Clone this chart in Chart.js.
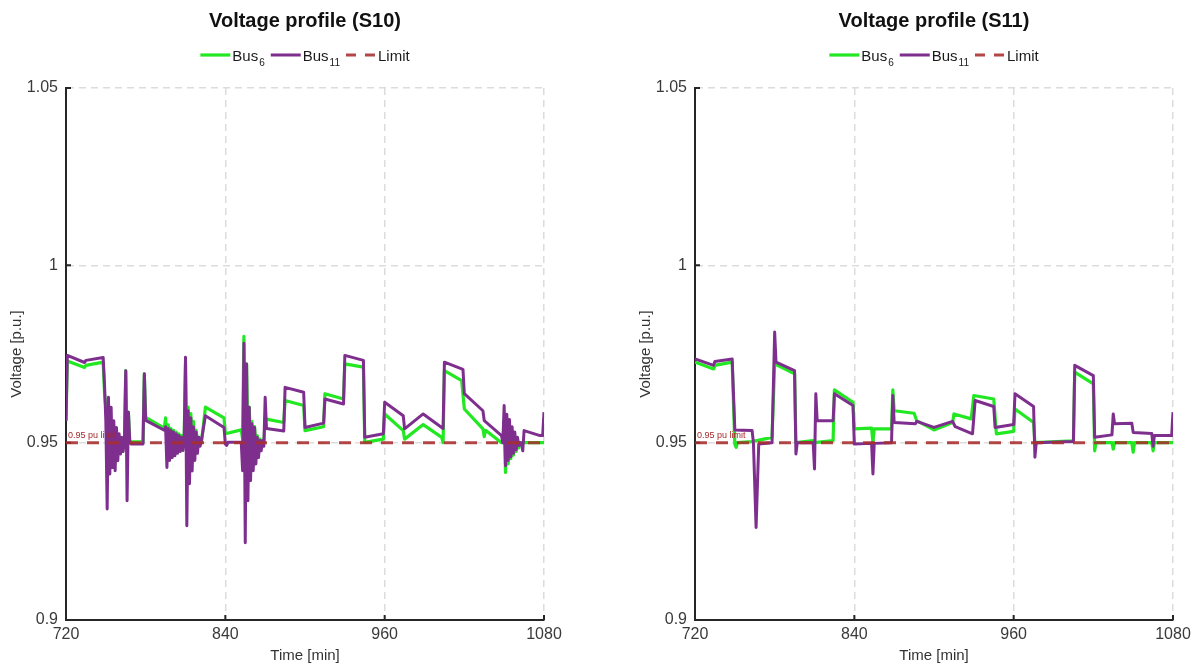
<!DOCTYPE html>
<html>
<head>
<meta charset="utf-8">
<title>Voltage profile</title>
<script src="https://cdn.jsdelivr.net/npm/chart.js@4.4.1/dist/chart.umd.min.js"></script>
<style>
  html, body { margin: 0; padding: 0; background: #fff; overflow: hidden; }
  #wrap { position: relative; width: 1199px; height: 669px; }
  canvas { position: absolute; top: 0; }
  #chartS10 { left: 0; }
  #chartS11 { left: 629px; }
</style>
</head>
<body>
<div id="wrap">
  <canvas id="chartS10" width="590" height="669"></canvas>
  <canvas id="chartS11" width="570" height="669"></canvas>
</div>
<script>
// Axis ticks
const xTicks = [720, 840, 960, 1080];
const xTickLabels = ['720', '840', '960', '1080'];
const yTicks = [0.9, 0.95, 1, 1.05];
const yTickLabels = ['0.9', '0.95', '1', '1.05'];

// Legend text (name + subscript)
const legendNames = ['Bus', 'Bus', 'Limit'];
const legendSubs = ['6', '11', ''];

// Limit line
const limitTime = [720, 1080];
const limitValue = [0.95, 0.95];

// S10 - Bus 11
const s10Bus11Time = [
  720, 721, 734, 735, 748, 749, 750, 751, 752, 753, 754, 755, 756, 757, 758, 759, 760, 761, 762, 763, 764, 765, 766, 767, 768, 769, 778, 779, 780, 794,
  795, 796, 797, 798, 799, 800, 801, 802, 803, 804, 805, 806, 807, 808, 809, 810, 811, 812, 813, 814, 815, 816, 817, 818, 819, 820, 821, 822, 825, 839,
  840, 841, 842, 852, 853, 854, 855, 856, 857, 858, 859, 860, 861, 862, 863, 864, 865, 866, 867, 868, 869, 870, 871, 884, 885, 899, 900, 914, 915, 929,
  930, 944, 945, 959, 960, 974, 975, 989, 1004, 1005, 1018, 1019, 1020, 1034, 1035, 1048, 1049, 1050, 1051, 1052, 1053, 1054, 1055, 1056, 1057, 1058, 1059, 1060, 1061, 1062,
  1063, 1064, 1065, 1077, 1079, 1080
];
const s10Bus11 = [
  0.9562, 0.9746, 0.9726, 0.9732, 0.9740, 0.9665, 0.9560, 0.9313, 0.9628, 0.9412, 0.9600, 0.9430, 0.9562, 0.9421, 0.9543, 0.9449, 0.9525, 0.9468, 0.9515, 0.9475, 0.9505, 0.9703, 0.9336, 0.9586, 0.9506, 0.9496, 0.9496, 0.9694, 0.9563, 0.9535,
  0.9545, 0.9430, 0.9540, 0.9450, 0.9535, 0.9458, 0.9530, 0.9463, 0.9525, 0.9470, 0.9520, 0.9475, 0.9515, 0.9478, 0.9510, 0.9741, 0.9266, 0.9590, 0.9384, 0.9570, 0.9420, 0.9545, 0.9450, 0.9530, 0.9470, 0.9515, 0.9490, 0.9506, 0.9576, 0.9543,
  0.9496, 0.9492, 0.9501, 0.9501, 0.9421, 0.9780, 0.9218, 0.9722, 0.9336, 0.9600, 0.9393, 0.9553, 0.9421, 0.9543, 0.9440, 0.9515, 0.9458, 0.9506, 0.9477, 0.9506, 0.9490, 0.9628, 0.9540, 0.9533, 0.9656, 0.9642, 0.9543, 0.9555, 0.9623, 0.9609,
  0.9746, 0.9732, 0.9515, 0.9525, 0.9614, 0.9576, 0.9539, 0.9581, 0.9540, 0.9727, 0.9708, 0.9706, 0.9638, 0.9590, 0.9562, 0.9520, 0.9500, 0.9605, 0.9435, 0.9580, 0.9450, 0.9565, 0.9460, 0.9545, 0.9470, 0.9530, 0.9480, 0.9515, 0.9492, 0.9500,
  0.9498, 0.9477, 0.9534, 0.9520, 0.9520, 0.9586
];

// S10 - Bus 6
const s10Bus6Time = [
  720, 721, 734, 735, 748, 749, 750, 751, 752, 753, 754, 755, 756, 757, 758, 759, 760, 761, 762, 763, 764, 765, 766, 767, 768, 778, 779, 780, 794, 795,
  796, 797, 798, 799, 800, 801, 802, 803, 804, 805, 806, 807, 808, 809, 810, 811, 812, 813, 814, 815, 816, 817, 818, 819, 820, 821, 822, 825, 839, 840,
  852, 853, 854, 855, 856, 857, 858, 859, 860, 861, 862, 863, 864, 865, 866, 867, 868, 869, 870, 884, 885, 899, 900, 914, 915, 929, 930, 944, 945, 959,
  960, 974, 975, 989, 1003, 1004, 1005, 1018, 1020, 1034, 1035, 1036, 1048, 1049, 1050, 1051, 1052, 1053, 1054, 1055, 1056, 1057, 1058, 1059, 1060, 1061, 1062, 1080
];
const s10Bus6 = [
  0.9562, 0.9730, 0.9712, 0.9718, 0.9727, 0.9640, 0.9600, 0.9560, 0.9580, 0.9540, 0.9560, 0.9525, 0.9540, 0.9515, 0.9525, 0.9505, 0.9512, 0.9500, 0.9505, 0.9500, 0.9500, 0.9703, 0.9500, 0.9586, 0.9502, 0.9502, 0.9694, 0.9571, 0.9541, 0.9570,
  0.9520, 0.9550, 0.9510, 0.9540, 0.9505, 0.9535, 0.9500, 0.9530, 0.9500, 0.9525, 0.9500, 0.9520, 0.9500, 0.9515, 0.9720, 0.9500, 0.9600, 0.9500, 0.9582, 0.9500, 0.9560, 0.9500, 0.9535, 0.9500, 0.9515, 0.9500, 0.9500, 0.9600, 0.9570, 0.9525,
  0.9536, 0.9510, 0.9800, 0.9500, 0.9722, 0.9500, 0.9600, 0.9500, 0.9560, 0.9500, 0.9545, 0.9500, 0.9520, 0.9500, 0.9510, 0.9500, 0.9505, 0.9500, 0.9567, 0.9557, 0.9619, 0.9605, 0.9534, 0.9545, 0.9638, 0.9623, 0.9722, 0.9713, 0.9501, 0.9510,
  0.9581, 0.9534, 0.9510, 0.9551, 0.9515, 0.9500, 0.9703, 0.9675, 0.9595, 0.9539, 0.9517, 0.9535, 0.9500, 0.9500, 0.9560, 0.9416, 0.9540, 0.9440, 0.9530, 0.9455, 0.9520, 0.9465, 0.9510, 0.9475, 0.9505, 0.9485, 0.9500, 0.9500
];

// S11 - Bus 11
const s11Bus11Time = [
  720, 734, 735, 748, 750, 763, 764, 766, 768, 778, 780, 781, 795, 796, 797, 809, 810, 811, 812, 824,
  825, 839, 840, 853, 854, 855, 868, 869, 870, 886, 887, 900, 914, 916, 929, 931, 945, 946, 960, 961,
  975, 976, 977, 1005, 1006, 1020, 1021, 1034, 1035, 1036, 1049, 1050, 1064, 1065, 1066, 1079, 1080
];
const s11Bus11 = [
  0.9736, 0.9718, 0.9729, 0.9736, 0.9536, 0.9534, 0.9500, 0.9261, 0.9496, 0.9500, 0.9812, 0.9727, 0.9703, 0.9468, 0.9500, 0.9500, 0.9426, 0.9638, 0.9562, 0.9562,
  0.9638, 0.9605, 0.9496, 0.9498, 0.9412, 0.9498, 0.9500, 0.9633, 0.9557, 0.9553, 0.9560, 0.9543, 0.9560, 0.9545, 0.9525, 0.9619, 0.9602, 0.9543, 0.9551, 0.9638,
  0.9602, 0.9459, 0.9500, 0.9503, 0.9718, 0.9689, 0.9515, 0.9522, 0.9581, 0.9553, 0.9555, 0.9529, 0.9526, 0.9490, 0.9520, 0.9520, 0.9586
];

// S11 - Bus 6
const s11Bus6Time = [
  720, 734, 735, 748, 750, 751, 752, 763, 778, 780, 795, 796, 809, 810, 824, 825, 839, 840, 853, 854,
  855, 868, 869, 870, 885, 887, 900, 914, 915, 928, 930, 945, 947, 960, 961, 975, 976, 1005, 1006, 1020,
  1021, 1022, 1034, 1035, 1036, 1049, 1050, 1051, 1064, 1065, 1066, 1080
];
const s11Bus6 = [
  0.9727, 0.9708, 0.9718, 0.9727, 0.9496, 0.9487, 0.9500, 0.9503, 0.9515, 0.9722, 0.9694, 0.9500, 0.9506, 0.9500, 0.9506, 0.9649, 0.9614, 0.9539, 0.9541, 0.9500,
  0.9539, 0.9539, 0.9649, 0.9590, 0.9583, 0.9562, 0.9536, 0.9557, 0.9581, 0.9567, 0.9633, 0.9623, 0.9525, 0.9532, 0.9595, 0.9557, 0.9500, 0.9505, 0.9699, 0.9666,
  0.9477, 0.9500, 0.9500, 0.9482, 0.9500, 0.9500, 0.9473, 0.9500, 0.9500, 0.9477, 0.9500, 0.9500
];

// Styles
const FONT = '"Liberation Sans", Arial, Helvetica, sans-serif';
const TEXT_COLOR = '#3a3a3a';
const AXIS_COLOR = '#262626';
const GREEN = '#22e822';
const PURPLE = '#7e2f8e';
const LIMIT_RED = 'rgba(168, 45, 45, 0.88)';
const GRID_COLOR = '#dcdcdc';

Chart.defaults.font.family = FONT;

function toPoints(times, values) {
  return times.map((t, i) => ({ x: t, y: values[i] }));
}

// Title + legend with subscripts, centred over the plot area
const headerPlugin = {
  id: 'header',
  afterDraw(chart) {
    const { ctx, chartArea } = chart;
    const sets = chart.data.datasets;
    const cx = (chartArea.left + chartArea.right) / 2;
    const sample = 30, gapText = 2, gapItem = 6, y = 55;
    const mainFont = '15px ' + FONT;
    const subFont = '10px ' + FONT;

    ctx.save();
    // title
    ctx.font = 'bold 20px ' + FONT;
    ctx.fillStyle = '#111';
    ctx.textAlign = 'center';
    ctx.textBaseline = 'middle';
    ctx.fillText(chart.options.plugins.header.title, cx, 21);

    // legend
    const widths = sets.map((ds, i) => {
      ctx.font = mainFont;
      let w = sample + gapText + ctx.measureText(legendNames[i]).width;
      if (legendSubs[i]) {
        ctx.font = subFont;
        w += 1 + ctx.measureText(legendSubs[i]).width;
      }
      return w;
    });
    const total = widths.reduce((a, b) => a + b, 0) + gapItem * (sets.length - 1);
    let x = cx - total / 2;

    sets.forEach((ds, i) => {
      ctx.strokeStyle = ds.borderColor;
      ctx.lineWidth = ds.borderWidth;
      ctx.setLineDash(ds.borderDash ? [10, 9] : []);
      ctx.beginPath();
      ctx.moveTo(x, y);
      ctx.lineTo(x + sample, y);
      ctx.stroke();
      ctx.setLineDash([]);
      x += sample + gapText;

      ctx.fillStyle = '#1a1a1a';
      ctx.textBaseline = 'alphabetic';
      ctx.textAlign = 'left';
      ctx.font = mainFont;
      ctx.fillText(legendNames[i], x, y + 6);
      x += ctx.measureText(legendNames[i]).width;
      if (legendSubs[i]) {
        ctx.font = subFont;
        ctx.fillText(legendSubs[i], x + 1, y + 11);
        x += 1 + ctx.measureText(legendSubs[i]).width;
      }
      x += gapItem;
    });
    ctx.restore();
  }
};

// Small inward tick marks on the two axis lines
const innerTicksPlugin = {
  id: 'innerTicks',
  beforeDatasetsDraw(chart) {
    const { ctx, chartArea, scales } = chart;
    ctx.save();
    ctx.strokeStyle = AXIS_COLOR;
    ctx.lineWidth = 2;
    ctx.beginPath();
    xTicks.slice(1).forEach(v => {
      const px = scales.x.getPixelForValue(v);
      ctx.moveTo(px, chartArea.bottom);
      ctx.lineTo(px, chartArea.bottom - 5);
    });
    yTicks.slice(1).forEach(v => {
      const py = scales.y.getPixelForValue(v);
      ctx.moveTo(chartArea.left, py);
      ctx.lineTo(chartArea.left + 5, py);
    });
    ctx.stroke();
    ctx.restore();
  }
};

// "0.95 pu limit" note above the limit line
const limitNotePlugin = {
  id: 'limitNote',
  afterDatasetsDraw(chart) {
    const { ctx, scales } = chart;
    ctx.save();
    ctx.font = '9px ' + FONT;
    ctx.fillStyle = '#a52a2a';
    ctx.textAlign = 'left';
    ctx.textBaseline = 'alphabetic';
    ctx.fillText('0.95 pu limit', scales.x.getPixelForValue(limitTime[0]) + 2, scales.y.getPixelForValue(limitValue[0]) - 5);
    ctx.restore();
  }
};

function makeChart(canvasId, titleText, bus6T, bus6V, bus11T, bus11V, rightPad) {
  const ctx = document.getElementById(canvasId).getContext('2d');
  return new Chart(ctx, {
    type: 'line',
    data: {
      datasets: [
        { label: 'Bus6', data: toPoints(bus6T, bus6V), borderColor: GREEN, borderWidth: 3.2, pointRadius: 0, borderJoinStyle: 'round', order: 2 },
        { label: 'Bus11', data: toPoints(bus11T, bus11V), borderColor: PURPLE, borderWidth: 3, pointRadius: 0, borderJoinStyle: 'round', order: 1 },
        { label: 'Limit', data: toPoints(limitTime, limitValue), borderColor: LIMIT_RED, borderWidth: 3, borderDash: [12, 9], pointRadius: 0, order: 0 }
      ]
    },
    options: {
      responsive: false,
      animation: false,
      layout: { padding: { left: 0, right: rightPad, top: 88, bottom: 0 } },
      plugins: {
        legend: { display: false },
        tooltip: { enabled: false },
        title: { display: false },
        header: { title: titleText }
      },
      scales: {
        x: {
          type: 'linear',
          min: 720,
          max: 1080,
          afterBuildTicks: s => { s.ticks = xTicks.map(v => ({ value: v })); },
          afterFit: s => { s.height = 49; },
          ticks: { color: TEXT_COLOR, font: { size: 16 }, padding: 5, maxRotation: 0, callback: (v, i) => xTickLabels[i] },
          grid: {
            color: c => (c.tick && c.tick.value === xTicks[0]) ? 'rgba(0,0,0,0)' : GRID_COLOR,
            lineWidth: 1.5,
            drawTicks: false
          },
          border: { color: AXIS_COLOR, width: 2, dash: [7, 5] },
          title: { display: true, text: 'Time [min]', color: '#333', font: { size: 15 }, padding: { top: 0, bottom: 4 } }
        },
        y: {
          min: 0.9,
          max: 1.05,
          afterBuildTicks: s => { s.ticks = yTicks.map(v => ({ value: v })); },
          afterFit: s => { s.width = 66; },
          ticks: { color: TEXT_COLOR, font: { size: 16 }, padding: 8, callback: (v, i) => yTickLabels[i] },
          grid: {
            color: c => (c.tick && c.tick.value === yTicks[0]) ? 'rgba(0,0,0,0)' : GRID_COLOR,
            lineWidth: 1.5,
            drawTicks: false
          },
          border: { color: AXIS_COLOR, width: 2, dash: [7, 5] },
          title: { display: true, text: 'Voltage [p.u.]', color: '#333', font: { size: 15 }, padding: { top: 8, bottom: 0 } }
        }
      }
    },
    plugins: [headerPlugin, innerTicksPlugin, limitNotePlugin]
  });
}

// Build both charts
makeChart('chartS10', 'Voltage profile (S10)', s10Bus6Time, s10Bus6, s10Bus11Time, s10Bus11, 46);
makeChart('chartS11', 'Voltage profile (S11)', s11Bus6Time, s11Bus6, s11Bus11Time, s11Bus11, 26);
</script>
</body>
</html>
